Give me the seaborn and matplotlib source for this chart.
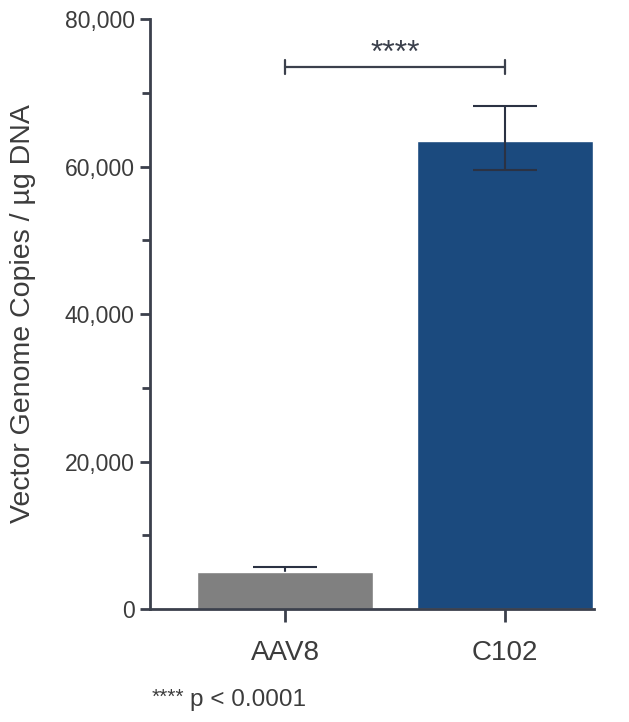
import matplotlib
matplotlib.use("Agg")
import matplotlib.pyplot as plt
import matplotlib.ticker as mticker
import seaborn as sns
import pandas as pd

groups = ["AAV8", "C102"]
means = [5000, 63500]
err_upper = [700, 4700]
err_lower = [700, 4000]
bar_colors = ["#808080", "#1b4a7e"]
sig_label = "****"
footnote_stars = "****"
footnote_text = "p < 0.0001"
ylabel = "Vector Genome Copies / µg DNA"

sns.set_theme(style="white")
plt.rcParams["font.family"] = ["Liberation Sans", "DejaVu Sans"]

axis_col = "#3b404c"
text_col = "#3c3c3c"
err_col = "#2b3243"

df = pd.DataFrame({"group": groups, "value": means})

fig = plt.figure(figsize=(6.29, 7.22), dpi=100)
ax = fig.add_axes([150 / 629, 1 - 609 / 722, (594 - 150) / 629, (609 - 19) / 722])

sns.barplot(data=df, x="group", y="value", hue="group", palette=bar_colors,
            width=0.8, legend=False, ax=ax, saturation=1, errorbar=None)
for patch in ax.patches:
    patch.set_zorder(2)

# AAV8 whisker sits behind its bar (only the upper half shows);
# C102 whisker is drawn on top of the bar
for i in range(len(groups)):
    ax.errorbar([i], [means[i]], yerr=[[err_lower[i]], [err_upper[i]]], fmt="none",
                ecolor=err_col, elinewidth=1.5, capsize=23, capthick=1.5,
                zorder=1 if i == 0 else 3)

ax.set_xlim(-0.614, 1.405)
ax.set_ylim(0, 80000)
ax.yaxis.set_major_locator(mticker.MultipleLocator(20000))
ax.yaxis.set_minor_locator(mticker.MultipleLocator(10000))
ax.yaxis.set_major_formatter(mticker.FuncFormatter(lambda v, p: f"{int(v):,}"))

for side in ["top", "right"]:
    ax.spines[side].set_visible(False)
for side in ["left", "bottom"]:
    ax.spines[side].set_color(axis_col)
    ax.spines[side].set_linewidth(2)

ax.tick_params(axis="y", which="major", direction="out", length=7, width=2,
               color=axis_col, labelsize=16.5, labelcolor=text_col, pad=4, left=True)
ax.tick_params(axis="y", which="minor", direction="out", length=6, width=2,
               color=axis_col, left=True)
ax.tick_params(axis="x", direction="out", length=9, width=2, color=axis_col,
               labelsize=20, labelcolor=text_col, pad=13, bottom=True)

ax.set_xlabel("")
ax.set_ylabel(ylabel, fontsize=20.5, color=text_col, labelpad=21)

# significance bracket
y_br = 73500
ax.plot([0, 1], [y_br, y_br], color=axis_col, lw=1.6, clip_on=False)
ax.plot([0, 0], [y_br - 900, y_br + 900], color=axis_col, lw=1.6, clip_on=False)
ax.plot([1, 1], [y_br - 900, y_br + 900], color=axis_col, lw=1.6, clip_on=False)
ax.text(0.5, y_br - 300, sig_label, ha="center", va="bottom", fontsize=23,
        color=axis_col)

fig.text(152 / 629, 1 - 697 / 722, footnote_stars, ha="left", va="center",
         fontsize=15, color=text_col)
fig.text(190 / 629, 1 - 700 / 722, footnote_text, ha="left", va="center",
         fontsize=17.5, color=text_col)

fig.savefig("out.png", dpi=100)
